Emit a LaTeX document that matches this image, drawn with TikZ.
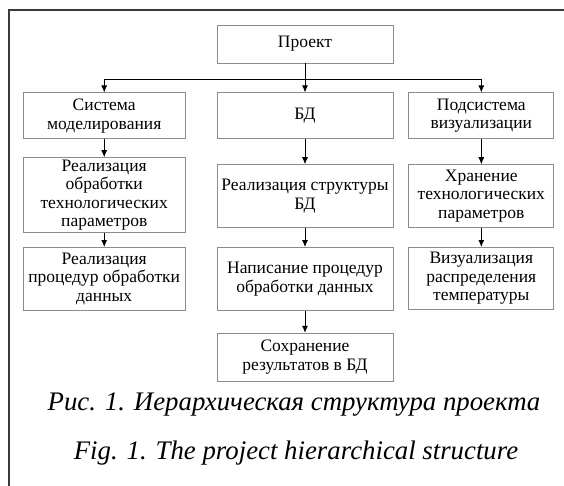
\documentclass[tikz,border=0pt]{standalone}
\usepackage{fontspec}
\setmainfont{Liberation Serif}
\usepackage{xcolor}
\usepackage{tikz}
\usetikzlibrary{positioning,arrows.meta,calc}
\definecolor{boxLine}{HTML}{8C8C8C}
\definecolor{frameLine}{HTML}{3A3A3A}

\begin{document}
\begin{tikzpicture}[
      x=1pt, y=1pt,
      node distance=18pt,
      box/.style={rectangle, draw=boxLine, line width=0.8pt, align=center,
                  inner sep=1pt, font=\fontsize{17.5}{18.6}\selectfont},
      arrow/.style={-{Latex[length=7pt,width=6pt]}, line width=0.8pt, black},
      caption/.style={font=\fontsize{26.8}{30}\selectfont\itshape}
    ]
    \useasboundingbox (0,0) rectangle (564,-486);
    \draw[frameLine, line width=1.2pt] (564,-10) -- (9,-10) -- (9,-486);

    \node[box, minimum width=176pt, minimum height=38pt] (proj) at (305,-44) {Проект};
    \node[box, below=29pt of proj, minimum width=176pt, minimum height=46pt] (bd) {БД};
    \node[box, left=31pt of bd, minimum width=162pt, minimum height=46pt] (sys) {Система\\моделирования};
    \node[box, right=15pt of bd, minimum width=145pt, minimum height=46pt] (vis) {Подсистема\\визуализации};

    \node[box, below=18pt of sys, minimum width=162pt, minimum height=75pt] (sysa) {Реализация\\обработки\\технологических\\параметров};
    \node[box, below=14pt of sysa, minimum width=162pt, minimum height=63pt] (sysb) {Реализация\\процедур обработки\\данных};

    \node[box, below=25pt of bd, minimum width=176pt, minimum height=63pt] (bda) {Реализация структуры\\БД};
    \node[box, below=19pt of bda, minimum width=176pt, minimum height=63pt] (bdb) {Написание процедур\\обработки данных};
    \node[box, below=22pt of bdb, minimum width=176pt, minimum height=48pt] (bdc) {Сохранение\\результатов в БД};

    \node[box, below=25pt of vis, minimum width=145pt, minimum height=63pt] (visa) {Хранение\\технологических\\параметров};
    \node[box, below=19pt of visa, minimum width=145pt, minimum height=62pt] (visb) {Визуализация\\распределения\\температуры};

    \node[caption] (capru) at (294,-405) {Рис. 1. Иерархическая структура проекта};
    \node[caption] (capen) at (296,-453) {Fig. 1. The project hierarchical structure};

    \coordinate (bus) at ($(proj.south)!0.55!(bd.north)$);
    \draw[arrow] (proj) -- (bd);
    \draw[arrow] (bus) -| (sys);
    \draw[arrow] (bus) -| (vis);

    \draw[arrow] (sys) -- (sysa);
    \draw[arrow] (sysa) -- (sysb);
    \draw[arrow] (bd) -- (bda);
    \draw[arrow] (bda) -- (bdb);
    \draw[arrow] (bdb) -- (bdc);
    \draw[arrow] (vis) -- (visa);
    \draw[arrow] (visa) -- (visb);
  \end{tikzpicture}
\end{document}
